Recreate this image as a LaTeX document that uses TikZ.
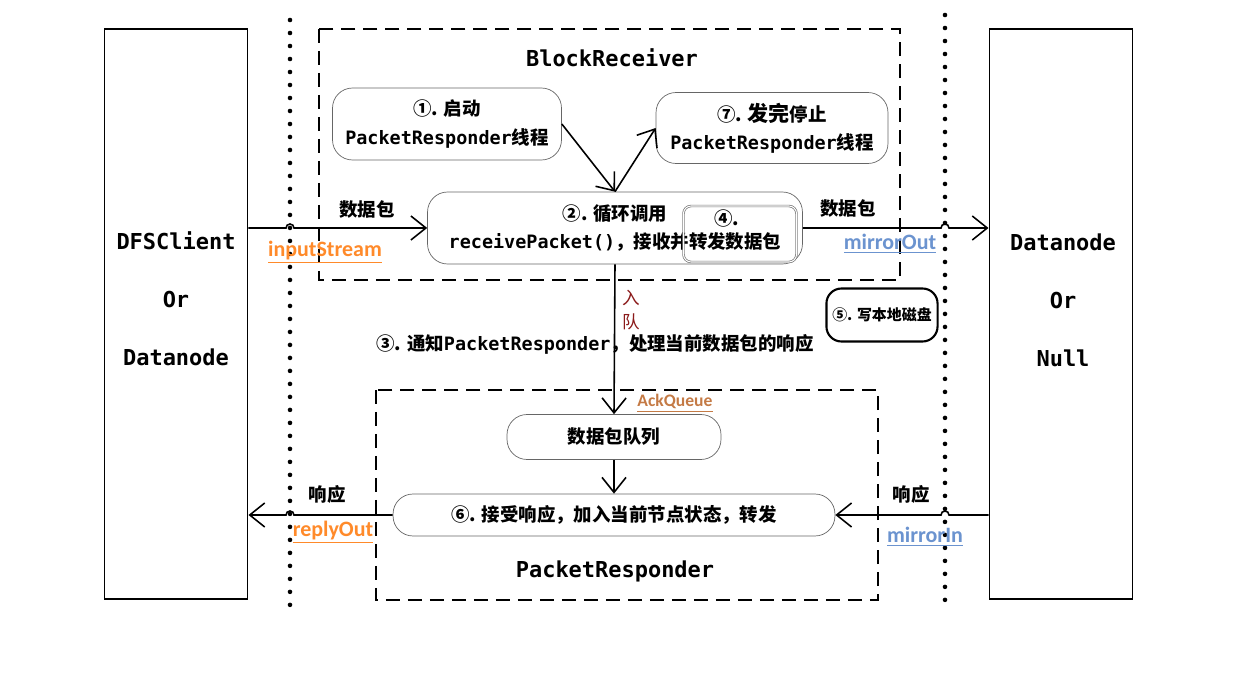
\documentclass[tikz,border=0pt]{standalone}
\usepackage{fontspec}
\setmainfont{DejaVu Sans Mono}
\newfontfamily\cjk{Noto Sans CJK SC}
\newfontfamily\lab{Carlito}
\usetikzlibrary{arrows.meta}
\usepackage{xcolor}
\definecolor{streamorange}{HTML}{FF8A2A}
\definecolor{mirrorblue}{HTML}{6B93CF}
\definecolor{queuebrown}{HTML}{C47A45}
\definecolor{enqred}{HTML}{8B1A1A}
\newcommand\zh[1]{{\cjk #1}}

\begin{document}
\begin{tikzpicture}[
x=0.02cm, y=-0.02cm,
font=\fontsize{10.5}{16}\selectfont\bfseries,
host/.style={draw,
line width=1.1pt,
minimum width=2.86cm,
minimum height=11.4cm},
hostname/.style={align=center, font=\fontsize{12.5}{33}\selectfont\bfseries},
group/.style={draw, line width=1.3pt, dash pattern=on 0.28cm off 0.16cm},
title/.style={font=\fontsize{12.5}{15}\selectfont\bfseries},
rbox/.style={draw=black!60,
thin,
rounded corners=0.4cm,
align=center,
inner sep=0pt},
arrow/.style={-{Straight Barb[length=0.3cm, width=0.48cm]}, line width=0.9pt},
dots/.style={line width=2.6pt, dash pattern=on 0pt off 0.26cm, line cap=round},
label/.style={font=\lab\fontsize{12.5}{14}\selectfont\bfseries}
]
\useasboundingbox (0,0) rectangle (1252,682);

% hosts on both sides
\node[host] (client) at (176,314) {};
\node[hostname] (clientname) at (176,299) {DFSClient\\Or\\Datanode};
\node[host] (datanode) at (1061,314) {};
\node[hostname] (datanodename) at (1063,300) {Datanode\\Or\\Null};

\draw[dots] (290,20) -- (290,612);
\draw[dots] (945,15) -- (945,607);

% BlockReceiver
\draw[group] (319,29) rectangle (900,280);
\node[title] (recvtitle) at (612,58) {BlockReceiver};
\node[rbox, minimum width=4.58cm, minimum height=1.44cm] (start) at (447,124) {\zh{①. 启动}\\PacketResponder\zh{线程}};
\node[rbox, minimum width=4.64cm, minimum height=1.42cm] (stop) at (772,128) {\zh{⑦. {\fontsize{12}{16}\selectfont 发完}停止}\\PacketResponder\zh{线程}};
\node[rbox, minimum width=7.5cm, minimum height=1.44cm] (recv) at (615,228) {\zh{②. 循环调用}\\receivePacket()\zh{，接收并转发数据包}};
\node[draw=black!55, double=white, double distance=0.6pt, rounded corners=0.15cm, minimum width=2.26cm, minimum height=1.12cm] (fwd) at (740,234) {};
\node (fwdnum) at (727,218) {\zh{④.}};

\draw[arrow] (start.east) -- (recv.north);
\draw[arrow] (recv.north) -- (stop.west);

% data packets in and out
\coordinate (hopA) at (290,228);
\coordinate (hopB) at (945,228);
\draw[arrow] (client.east |- recv.west) -- ([xshift=-0.08cm]hopA) arc[start angle=180, end angle=0, radius=0.08cm] -- (recv.west);
\draw[arrow] (recv.east) -- ([xshift=-0.08cm]hopB) arc[start angle=180, end angle=0, radius=0.08cm] -- (recv.east -| datanode.west);
\node (pktin) at (367,210) {\zh{数据包}};
\node (pktout) at (848,209) {\zh{数据包}};
\node[label, text=streamorange] (instream) at (325,252) {\underline{inputStream}};
\node[label, text=mirrorblue] (mirrorout) at (890,244) {\underline{mirrorOut}};

\node[draw, line width=1.2pt, rounded corners=0.3cm, minimum width=2.12cm, minimum height=1.06cm, font=\cjk\fontsize{8.5}{10}\selectfont\bfseries] (disk) at (882,315) {⑤. 写本地磁盘};

% PacketResponder
\draw[group] (376,390) rectangle (878,600);
\node[title] (resptitle) at (615,571) {PacketResponder};
\node[rbox, minimum width=4.28cm, minimum height=0.9cm] (queue) at (614,437) {\zh{数据包队列}};
\node[rbox, minimum width=8.84cm, minimum height=0.84cm] (resp) at (614,515) {\zh{⑥. 接受响应，加入当前节点状态，转发}};

\draw[arrow] (recv.south) -- (queue.north);
\draw[arrow] (queue.south) -- (resp.north);
\node[align=center, text=enqred, font=\cjk\fontsize{10}{14}\selectfont] (enq) at (631,310) {入\\队};
\node (notify) at (595,344) {\zh{③. 通知}PacketResponder\zh{，处理当前数据包的响应}};
\node[label, text=queuebrown, font=\lab\fontsize{10}{12}\selectfont\bfseries] (ackq) at (675,403) {\underline{AckQueue}};

% acks back
\coordinate (hopC) at (290,515);
\coordinate (hopD) at (945,515);
\draw[arrow] (resp.west) -- ([xshift=0.08cm]hopC) arc[start angle=0, end angle=180, radius=0.08cm] -- (resp.west -| client.east);
\draw[arrow] (datanode.west |- resp.east) -- ([xshift=0.08cm]hopD) arc[start angle=0, end angle=180, radius=0.08cm] -- (resp.east);
\node (ackin) at (327,494) {\zh{响应}};
\node (ackout) at (911,494) {\zh{响应}};
\node[label, text=streamorange] (replyout) at (333,532) {\underline{replyOut}};
\node[label, text=mirrorblue] (mirrorin) at (925,537) {\underline{mirrorIn}};

\end{tikzpicture}
\end{document}
